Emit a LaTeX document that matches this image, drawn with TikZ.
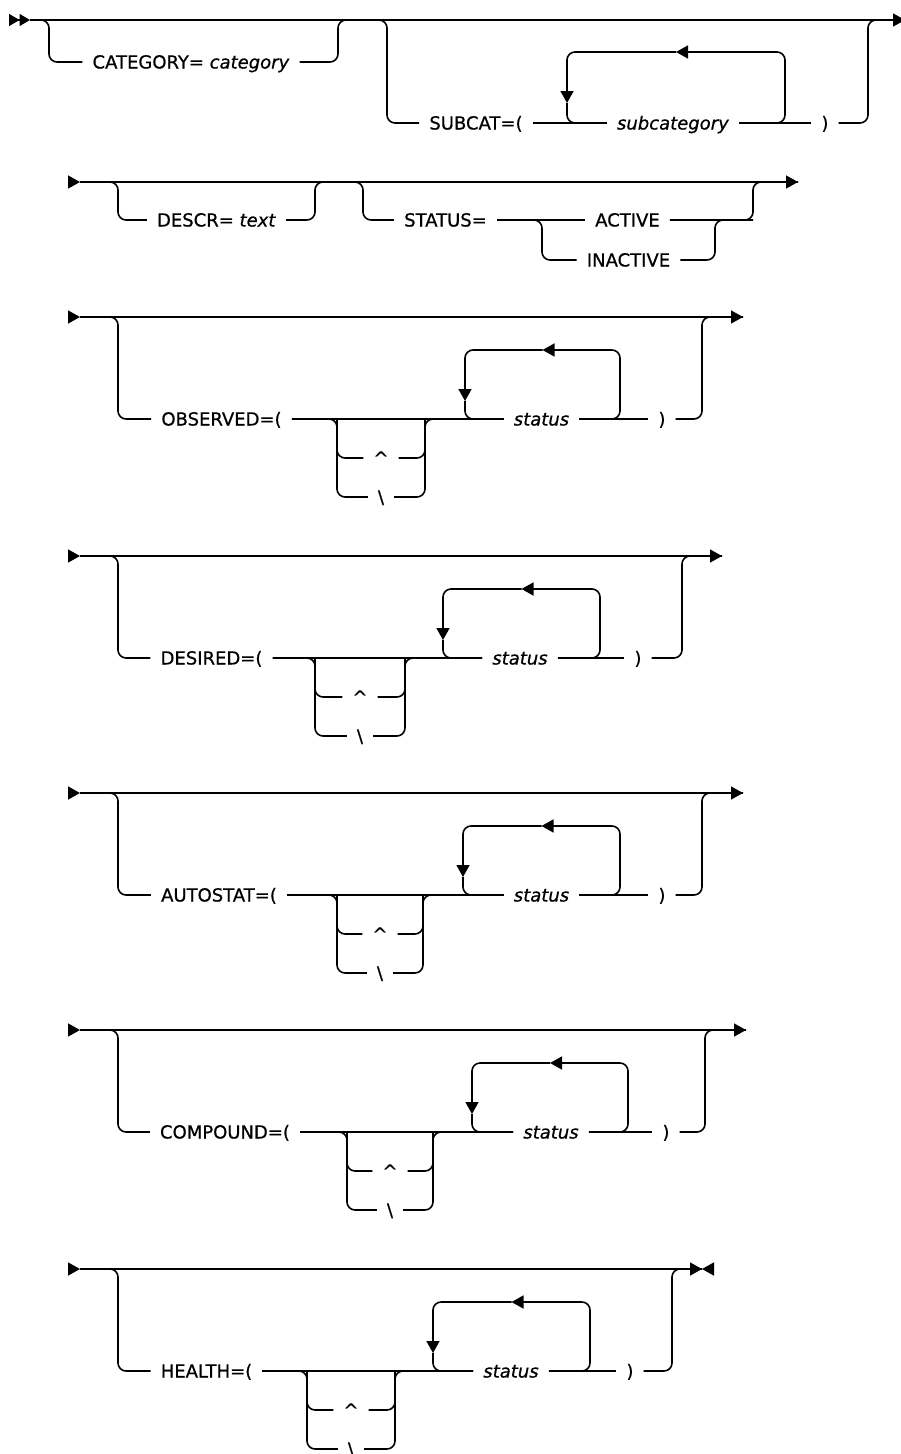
\documentclass[tikz,border=0pt]{standalone}
\usepackage{fontspec}
\setmainfont{DejaVu Sans}[ItalicFont={DejaVu Sans Oblique}]
\usetikzlibrary{arrows.meta}
\tikzset{
  rail/.style={
    draw=black,
    line width=1.6pt,
    rounded corners=8pt
  },
  railend/.style={
    rail,
    -{Triangle[length=12pt,width=13pt]}
  },
  marker/.style={
    line width=1.6pt,
    -{Triangle[length=12pt,width=13pt]}
  },
  startmarker/.style={
    line width=1.6pt,
    -{Triangle[length=10.5pt,width=12pt]Triangle[length=10.5pt,width=12pt]}
  },
  kw/.style={
    inner xsep=10pt,
    inner ysep=0pt,
    text height=13pt,
    text depth=0pt,
    font=\fontsize{18}{20}\selectfont\addfontfeatures{FakeBold=0.7}
  }
}

\begin{document}
\begin{tikzpicture}[x=1pt, y=-1pt]
  \useasboundingbox (0,0) rectangle (901,1454);

  % first line
  \coordinate (s1a) at (9,20);
  \coordinate (s1) at (30,20);
  \coordinate (e1) at (905,20);
  \coordinate (b1) at (49,62);
  \coordinate (j1) at (338,20);
  \coordinate (b2) at (387,123);
  \coordinate (lt1) at (785,52);
  \coordinate (lm1) at (676,52);
  \coordinate (ld1) at (567,103);
  \coordinate (j2) at (868,20);
  \node[kw] (cat) at (191,62) {CATEGORY= \textit{category}};
  \node[kw] (sub) at (476,123) {SUBCAT=(};
  \node[kw] (subc) at (673,123) {\textit{subcategory}};
  \node[kw] (rp1) at (825,123) {)};

  \draw[startmarker] (s1a) -- (s1);
  \draw[railend] (s1) -- (e1);
  \draw[rail] (s1) -| (b1) -- (cat);
  \draw[rail] (cat) -| (j1) -| (b2) -- (sub);
  \draw[rail] (sub) -- (subc);
  \draw[rail] (subc) -- (rp1);
  \draw[rail] (rp1) -| (j2) -- (e1);
  \draw[railend] (subc) -| (lt1) -- (lm1);
  \draw[railend] (lm1) -| (ld1);
  \draw[rail] (ld1) |- (subc);

  % second line
  \coordinate (s2a) at (68,182);
  \coordinate (s2) at (80,182);
  \coordinate (e2) at (798,182);
  \coordinate (b3) at (118,220);
  \coordinate (j3) at (315,182);
  \coordinate (b4) at (363,220);
  \coordinate (b5) at (542,260);
  \coordinate (j5) at (715,220);
  \coordinate (j6) at (753,182);
  \node[kw] (descr) at (216.5,220) {DESCR= \textit{text}};
  \node[kw] (stat) at (445.5,220) {STATUS=};
  \node[kw] (act) at (627.5,220) {ACTIVE};
  \node[kw] (inact) at (628.5,260) {INACTIVE};

  \draw[marker] (s2a) -- (s2);
  \draw[railend] (s2) -- (e2);
  \draw[rail] (s2) -| (b3) -- (descr);
  \draw[rail] (descr) -| (j3) -| (b4) -- (stat);
  \draw[rail] (stat) -- (act);
  \draw[rail] (stat) -| (b5) -- (inact);
  \draw[rail] (act) -| (j6) -- (e2);
  \draw[rail] (inact) -| (j5) -- (act -| j6);

  % status lines
  \foreach \r/\y/\lbl/\lx/\chl/\chr/\sx/\lpl/\lpr/\px/\rv/\ex in {
      3/317/{OBSERVED=(}/221.5/337/425/541.5/465/620/662/702/743,
      4/556/{DESIRED=(}/211.5/315/405/520/443/600/638/682/722,
      5/793/{AUTOSTAT=(}/219/337/423/541.5/463/620/662/702/743,
      6/1030/{COMPOUND=(}/225/347/433/551/472/628/666/705/746,
      7/1269/{HEALTH=(}/206.5/307/395/511/433/590/630/672/702} {
    \pgfmathsetmacro\yb{\y+102}
    \pgfmathsetmacro\yc{\y+141}
    \pgfmathsetmacro\yd{\y+180}
    \pgfmathsetmacro\chm{(\chl+\chr)/2}
    \pgfmathsetmacro\lpm{(\lpl+\lpr)/2}
    \coordinate (sa\r) at (68,\y);
    \coordinate (s\r) at (80,\y);
    \coordinate (e\r) at (\ex,\y);
    \coordinate (b\r) at (118,\yb);
    \coordinate (cb\r) at (\chl,\yd);
    \coordinate (ct\r) at (\chr,\yb);
    \coordinate (lt\r) at (\lpr,\y+33);
    \coordinate (lm\r) at (\lpm,\y+33);
    \coordinate (ld\r) at (\lpl,\y+84);
    \coordinate (rt\r) at (\rv,\y);
    \node[kw] (lbl\r) at (\lx,\yb) {\lbl};
    \node[kw] (car\r) at (\chm,\yc) {\textasciicircum};
    \node[kw] (bs\r) at (\chm,\yd) {\textbackslash};
    \node[kw] (st\r) at (\sx,\yb) {\textit{status}};
    \node[kw] (rp\r) at (\px,\yb) {)};

    \draw[marker] (sa\r) -- (s\r);
    \draw[railend] (s\r) -- (e\r);
    \draw[rail] (s\r) -| (b\r) -- (lbl\r);
    \draw[rail] (lbl\r) -- (st\r);
    \draw[rail] (lbl\r) -| (cb\r) -- (bs\r);
    \draw[rail] (lbl\r -| cb\r) |- (car\r);
    \draw[rail] (car\r) -| (ct\r);
    \draw[rail] (bs\r) -| (ct\r) -- (st\r);
    \draw[railend] (st\r) -| (lt\r) -- (lm\r);
    \draw[railend] (lm\r) -| (ld\r);
    \draw[rail] (ld\r) |- (st\r);
    \draw[rail] (st\r) -- (rp\r);
    \draw[rail] (rp\r) -| (rt\r) -- (e\r);
  }
  \coordinate (e7b) at (712,1269);
  \draw[marker] (e7b) -- (e7);
\end{tikzpicture}
\end{document}
